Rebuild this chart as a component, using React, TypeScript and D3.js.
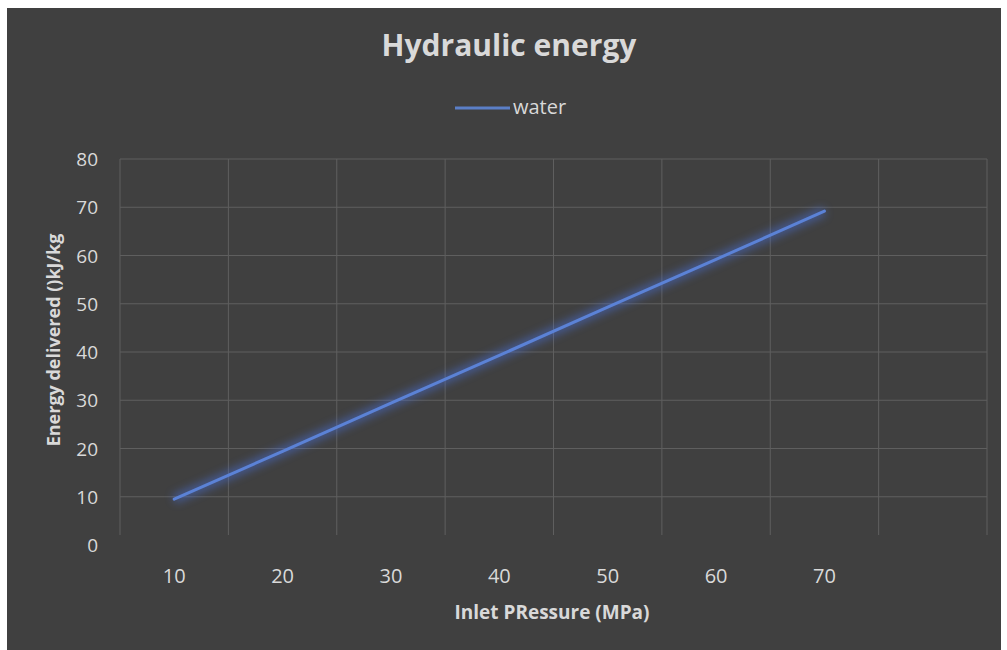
import React from "react";
import * as d3 from "d3";

const categories = ["10", "20", "30", "40", "50", "60", "70", ""];
const waterValues = [9.5, 19.4, 29.4, 39.3, 49.3, 59.2, 69.2];
const yTicks = [0, 10, 20, 30, 40, 50, 60, 70, 80];

const W = 1007;
const H = 650;
const M = { left: 120, right: 1007 - 987, top: 159, bottom: 650 - 545 };

export default function App() {
  const x = d3
    .scaleBand<string>()
    .domain(categories.map((c, i) => String(i)))
    .range([M.left, W - M.right]);
  const y = d3.scaleLinear().domain([0, 80]).range([H - M.bottom, M.top]);
  const line = d3
    .line<number>()
    .x((_, i) => (x(String(i)) as number) + x.bandwidth() / 2)
    .y((d) => y(d));
  const font = "'Open Sans', 'Liberation Sans', sans-serif";
  const txt = "#d9d9d9";
  const grid = "#5f5f5f";
  return (
    <div style={{ position: "fixed", left: 0, top: 0 }}>
      <svg width={W} height={H} style={{ display: "block" }}>
        <defs>
          <filter id="glow" x="-20%" y="-20%" width="140%" height="140%">
            <feGaussianBlur stdDeviation="4" />
          </filter>
        </defs>
        <rect x={0} y={0} width={W} height={H} fill="#ffffff" />
        <rect x={7} y={8} width={994} height={H - 8} fill="#404040" />
        <text x={509} y={56} textAnchor="middle" fill={txt} fontFamily={font} fontWeight="bold" fontSize={30}>
          Hydraulic energy
        </text>
        {/* legend */}
        <line x1={455} x2={510} y1={108} y2={108} stroke="#5b7fc7" strokeWidth={3} />
        <text x={513} y={114} fill={txt} fontFamily={font} fontSize={20}>
          water
        </text>
        {/* gridlines */}
        {yTicks.filter((t) => t > 0).map((t) => (
          <line key={"h" + t} x1={M.left} x2={W - M.right} y1={y(t)} y2={y(t)} stroke={grid} strokeWidth={1} />
        ))}
        {categories.map((c, i) => (
          <line key={"v" + i} x1={x(String(i))} x2={x(String(i))} y1={M.top} y2={y(0) - 10} stroke={grid} strokeWidth={1} />
        ))}
        <line x1={W - M.right} x2={W - M.right} y1={M.top} y2={y(0) - 10} stroke={grid} strokeWidth={1} />
        {/* y tick labels */}
        {yTicks.map((t) => (
          <text key={"yt" + t} x={98} y={y(t) + 7} textAnchor="end" fill={txt} fontFamily={font} fontSize={19}>
            {t}
          </text>
        ))}
        {/* x tick labels */}
        {categories.map((c, i) => (
          <text key={"xt" + i} x={(x(String(i)) as number) + x.bandwidth() / 2} y={583} textAnchor="middle" fill={txt} fontFamily={font} fontSize={20}>
            {c}
          </text>
        ))}
        {/* series */}
        <path d={line(waterValues) || ""} fill="none" stroke="#4a6fd8" strokeWidth={9} opacity={0.55} filter="url(#glow)" />
        <path d={line(waterValues) || ""} fill="none" stroke="#5b82d6" strokeWidth={3} strokeLinecap="round" />
        {/* axis titles */}
        <text x={552} y={619} textAnchor="middle" fill={txt} fontFamily={font} fontWeight="bold" fontSize={19}>
          Inlet PRessure (MPa)
        </text>
        <text transform="translate(60,340) rotate(-90)" textAnchor="middle" fill={txt} fontFamily={font} fontWeight="bold" fontSize={18}>
          Energy delivered  ()kJ/kg
        </text>
      </svg>
    </div>
  );
}
